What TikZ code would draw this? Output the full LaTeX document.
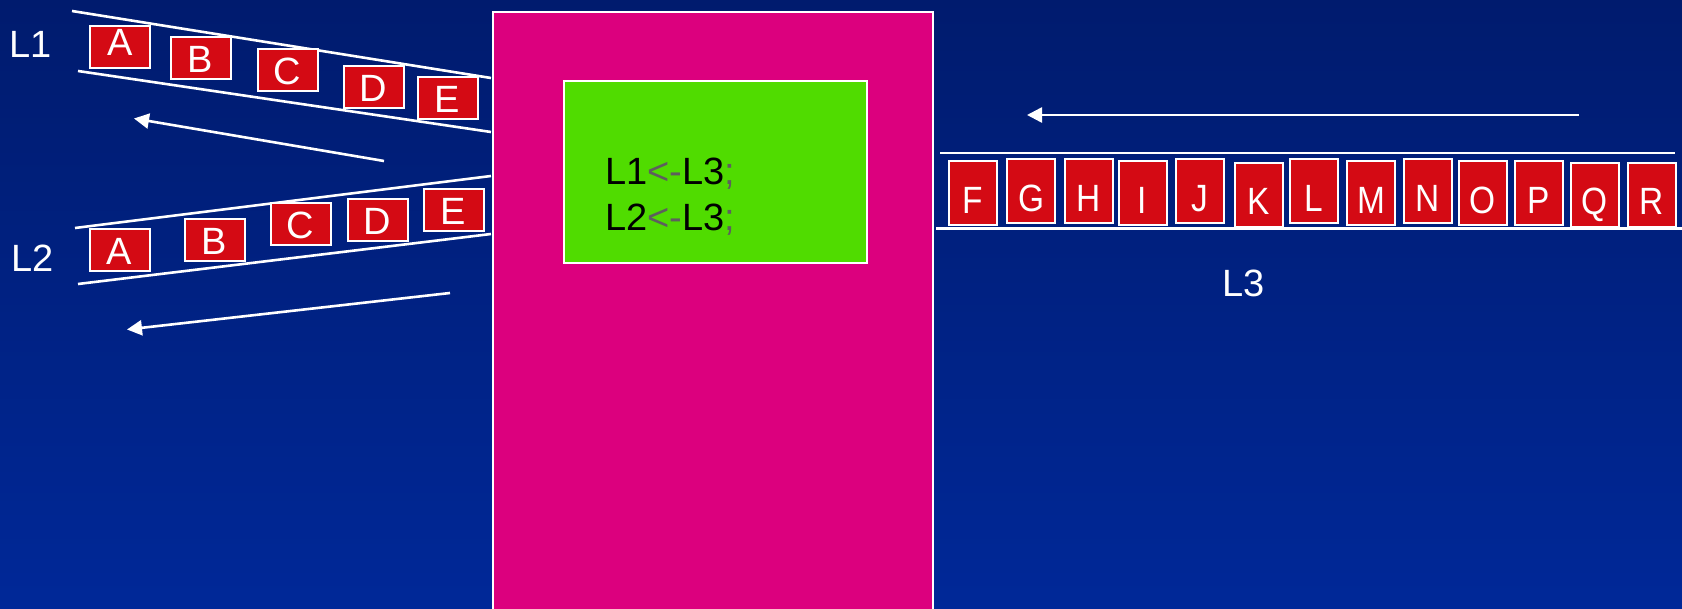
\documentclass[tikz,border=0pt]{standalone}
\usepackage{fontspec}
\usepackage{graphicx}
\setmainfont{Liberation Sans}
\usetikzlibrary{arrows.meta}
\definecolor{bgtop}{HTML}{001B6E}
\definecolor{bgbot}{HTML}{002898}
\definecolor{pinkc}{HTML}{DC007E}
\definecolor{greenc}{HTML}{50DC00}
\definecolor{redc}{HTML}{D40A14}
\definecolor{grayc}{HTML}{5E5E5E}
\newcommand{\nl}[1]{\scalebox{0.88}[1]{#1}}
\begin{document}
\begin{tikzpicture}[x=0.5pt,y=-0.5pt,
  big/.style={font=\fontsize{19}{19}\selectfont},
  box/.style={big,draw=white,line width=1pt,fill=redc,text=white,
    minimum width=30pt,minimum height=21pt,inner sep=0pt,
    text height=13.6pt,text depth=0pt},
  tallbox/.style={box,minimum width=24pt,minimum height=32pt,text height=19.6pt},
  rail/.style={draw=white,line width=1.3pt},
  arr/.style={draw=white,line width=1.3pt,-{Triangle[length=7.5pt,width=7.5pt]}},
  lab/.style={big,text=white,inner sep=0pt,anchor=base west},
  code/.style={big,text=black,inner sep=0pt,anchor=base west},
  pinkbox/.style={draw=white,line width=1pt,fill=pinkc,inner sep=0pt,
    minimum width=220pt,minimum height=310pt,anchor=north west},
  greenbox/.style={draw=white,line width=1.3pt,fill=greenc,inner sep=0pt,
    minimum width=151.5pt,minimum height=91pt}]
\useasboundingbox (0,0) rectangle (1682,609);
\shade[top color=bgtop,bottom color=bgbot] (0,0) rectangle (1682,609);

% central processor
\node[pinkbox] (proc) at (492,11) {};
\node[greenbox] (prog) at (715.5,172) {};
\node[code] (c1) at (605,185) {L1\textcolor{grayc}{<-}L3\textcolor{grayc}{;}};
\node[code] (c2) at (605,231) {L2\textcolor{grayc}{<-}L3\textcolor{grayc}{;}};

% rails
\coordinate (l1ta) at (72,11);   \coordinate (l1tb) at (491,78);
\coordinate (l1ba) at (78,71);   \coordinate (l1bb) at (491,132);
\coordinate (l2ta) at (75,228);  \coordinate (l2tb) at (491,176);
\coordinate (l2ba) at (78,284);  \coordinate (l2bb) at (491,234);
\coordinate (l3ta) at (940,153); \coordinate (l3tb) at (1675,153);
\coordinate (l3ba) at (936,228.5); \coordinate (l3bb) at (1682,228.5);
\draw[rail] (l1ta) -- (l1tb);
\draw[rail] (l1ba) -- (l1bb);
\draw[rail] (l2ta) -- (l2tb);
\draw[rail] (l2ba) -- (l2bb);
\draw[rail] (l3ta) -- (l3tb);
\draw[rail] (l3ba) -- (l3bb);

% arrows
\coordinate (a1s) at (384,161); \coordinate (a1e) at (134,118.5);
\coordinate (a2s) at (450,293); \coordinate (a2e) at (127,329.5);
\coordinate (a3s) at (1579,115); \coordinate (a3e) at (1027,115);
\draw[arr] (a1s) -- (a1e);
\draw[arr] (a2s) -- (a2e);
\draw[arr] (a3s) -- (a3e);

% labels
\node[lab] (L1) at (9,58) {L1};
\node[lab] (L2) at (11,272) {L2};
\node[lab] (L3) at (1222,297) {L3};

% list L1
\node[box,text height=7.6pt] (a1) at (120,47.5) {A};
\node[box] (b1) at (200.5,58.5) {B};
\node[box] (c1b) at (287.5,70.5) {C};
\node[box] (d1) at (373.5,87.5) {D};
\node[box] (e1) at (447.5,98.5) {E};

% list L2
\node[box] (a2) at (119.5,250.5) {A};
\node[box] (b2) at (214.5,240.5) {B};
\node[box] (c2b) at (300.5,224.5) {C};
\node[box] (d2) at (377.5,220.5) {D};
\node[box] (e2) at (453.5,210.5) {E};

% list L3
\node[tallbox] (F) at (972.5,193.5) {\nl{F}};
\node[tallbox] (G) at (1031,191.5) {\nl{G}};
\node[tallbox] (H) at (1088.5,191.5) {\nl{H}};
\node[tallbox] (I) at (1142.5,193.5) {\nl{I}};
\node[tallbox] (J) at (1199.5,191.5) {\nl{J}};
\node[tallbox] (K) at (1258.5,195) {\nl{K}};
\node[tallbox] (L) at (1313.5,191.5) {\nl{L}};
\node[tallbox] (M) at (1371,193.5) {\nl{M}};
\node[tallbox] (N) at (1427.5,191.5) {\nl{N}};
\node[tallbox] (O) at (1482.5,193.5) {\nl{O}};
\node[tallbox] (P) at (1539,193.5) {\nl{P}};
\node[tallbox] (Q) at (1594.5,195) {\nl{Q}};
\node[tallbox] (R) at (1652,195) {\nl{R}};
\end{tikzpicture}
\end{document}
